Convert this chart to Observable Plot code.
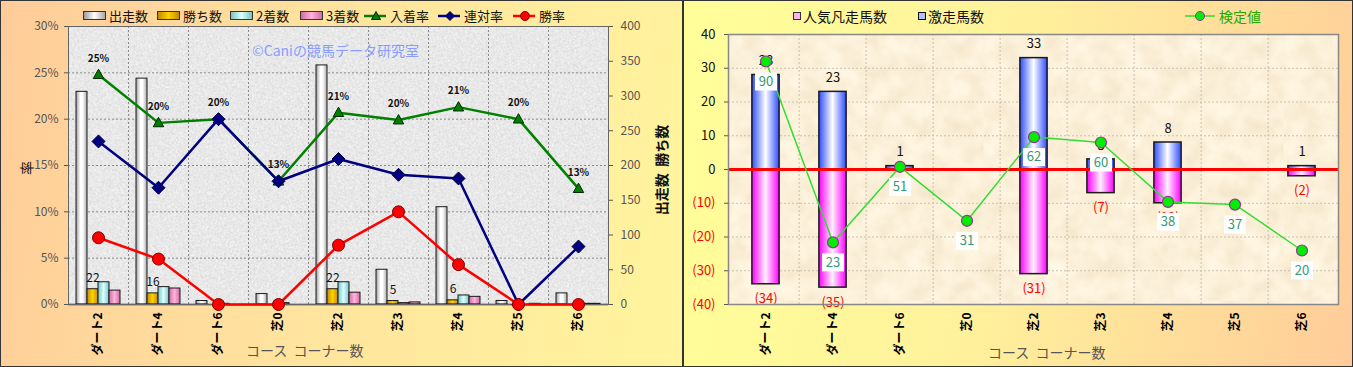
<!DOCTYPE html>
<html><head><meta charset="utf-8">
<script src="https://cdn.jsdelivr.net/npm/d3@7"></script>
<script src="https://cdn.jsdelivr.net/npm/@observablehq/plot@0.6"></script>
<style>
body{margin:0;width:1353px;height:367px;overflow:hidden;font-family:"Noto Sans CJK JP","Noto Sans",sans-serif;background:#fff;}
.panel{position:absolute;top:0;height:367px;overflow:hidden;}
#left{left:0;width:683px;background:linear-gradient(100deg,#FFCC99 0%,#FFE39E 45%,#FFF59D 100%);box-shadow:inset 0 0 0 1px #333;}
#right{left:683px;width:670px;background:linear-gradient(100deg,#FFFF99 0%,#FFF29C 45%,#FFCC99 100%);box-shadow:inset 0 0 0 1px #333;}
.layer{position:absolute;left:0;top:0;}
.leg{position:absolute;font-size:13px;white-space:nowrap;display:flex;align-items:center;color:#111;line-height:1;}
.bicon{display:inline-block;width:21px;height:7px;border:1px solid #333;margin-right:3px;}
.licon{display:inline-block;width:22px;height:12px;margin-right:4px;position:relative;}
.sq{display:inline-block;width:6px;height:6px;border:1px solid #222;margin-right:2px;}
.title{position:absolute;font-size:14px;color:#555;white-space:nowrap;}
.vlab{position:absolute;font-size:14px;color:#111;white-space:nowrap;transform:translate(-50%,-50%) rotate(-90deg);font-weight:bold;}
</style>
</head><body>
<svg width="0" height="0" style="position:absolute">
<defs>
<linearGradient id="gRun" x1="0" x2="1" y1="0" y2="0"><stop offset="0" stop-color="#9c9c9c"/><stop offset="0.4" stop-color="#ffffff"/><stop offset="0.6" stop-color="#ffffff"/><stop offset="1" stop-color="#a8a8a8"/></linearGradient>
<linearGradient id="gWin" x1="0" x2="1" y1="0" y2="0"><stop offset="0" stop-color="#c48c00"/><stop offset="0.5" stop-color="#ffd000"/><stop offset="1" stop-color="#c48c00"/></linearGradient>
<linearGradient id="g2nd" x1="0" x2="1" y1="0" y2="0"><stop offset="0" stop-color="#78c4c4"/><stop offset="0.5" stop-color="#dcffff"/><stop offset="1" stop-color="#78c4c4"/></linearGradient>
<linearGradient id="g3rd" x1="0" x2="1" y1="0" y2="0"><stop offset="0" stop-color="#d06aa4"/><stop offset="0.5" stop-color="#ffb4dc"/><stop offset="1" stop-color="#d06aa4"/></linearGradient>
<linearGradient id="gHot" x1="0" x2="1" y1="0" y2="0"><stop offset="0" stop-color="#2f4dff"/><stop offset="0.5" stop-color="#ffffff"/><stop offset="1" stop-color="#2f4dff"/></linearGradient>
<linearGradient id="gFlop" x1="0" x2="1" y1="0" y2="0"><stop offset="0" stop-color="#ff00ff"/><stop offset="0.5" stop-color="#fff0ff"/><stop offset="1" stop-color="#ff00ff"/></linearGradient>
<filter id="fGray" x="0" y="0" width="100%" height="100%" color-interpolation-filters="sRGB">
 <feTurbulence type="fractalNoise" baseFrequency="0.75" numOctaves="3" seed="4"/>
 <feColorMatrix type="matrix" values="0.3 0 0 0 0.76  0.3 0 0 0 0.76  0.3 0 0 0 0.76  0 0 0 0 1"/>
</filter>
<pattern id="texGray" patternUnits="userSpaceOnUse" width="300" height="300"><rect width="300" height="300" filter="url(#fGray)"/></pattern>
<filter id="fCream" x="0" y="0" width="100%" height="100%" color-interpolation-filters="sRGB">
 <feTurbulence type="fractalNoise" baseFrequency="0.05" numOctaves="3" seed="7"/>
 <feColorMatrix type="matrix" values="0.08 0 0 0 0.945  0.1 0 0 0 0.89  0.14 0 0 0 0.78  0 0 0 0 1"/>
</filter>
<pattern id="texCream" patternUnits="userSpaceOnUse" width="300" height="300"><rect width="300" height="300" filter="url(#fCream)"/></pattern>
</defs>
</svg>

<div id="left" class="panel">
  <div class="leg" style="left:83px;top:9px"><span class="bicon" style="background:linear-gradient(to right,#9c9c9c,#fff,#a8a8a8)"></span>出走数</div>
  <div class="leg" style="left:157px;top:9px"><span class="bicon" style="background:linear-gradient(to right,#c48c00,#ffd000,#c48c00)"></span>勝ち数</div>
  <div class="leg" style="left:230px;top:9px"><span class="bicon" style="background:linear-gradient(to right,#78c4c4,#dcffff,#78c4c4)"></span>2着数</div>
  <div class="leg" style="left:300px;top:9px"><span class="bicon" style="background:linear-gradient(to right,#d06aa4,#ffb4dc,#d06aa4)"></span>3着数</div>
  <div class="leg" style="left:364px;top:9px"><svg class="licon" width="24" height="12"><line x1="0" y1="6" x2="24" y2="6" stroke="#008000" stroke-width="2.5"/><path d="M12,1.5 L16.5,9.5 L7.5,9.5Z" fill="#008000" stroke="#002200"/></svg>入着率</div>
  <div class="leg" style="left:438px;top:9px"><svg class="licon" width="24" height="12"><line x1="0" y1="6" x2="24" y2="6" stroke="#000080" stroke-width="2.5"/><path d="M12,1.5 L16.5,6 L12,10.5 L7.5,6Z" fill="#000080" stroke="#000040"/></svg>連対率</div>
  <div class="leg" style="left:513px;top:9px"><svg class="licon" width="24" height="12"><line x1="0" y1="6" x2="24" y2="6" stroke="#ff0000" stroke-width="2.5"/><circle cx="12" cy="6" r="4.5" fill="#ff0000" stroke="#800000"/></svg>勝率</div>
  <div id="L1"></div><div id="L2"></div><div id="L3"></div>
  <div class="vlab" style="left:26px;top:168px;font-weight:normal">率</div>
  <div class="vlab" style="left:661px;top:170px">出走数&nbsp;&nbsp;勝ち数</div>
  <div class="title" style="left:246px;top:340px">コース&nbsp;&nbsp;コーナー数</div>
</div>

<div id="right" class="panel">
  <div class="leg" style="left:110px;top:9px;font-size:14px"><span class="sq" style="background:#ffb0f0;border-color:#333"></span>人気凡走馬数</div>
  <div class="leg" style="left:235px;top:9px;font-size:14px"><span class="sq" style="background:#b0c0ff;border-color:#111"></span>激走馬数</div>
  <div class="leg" style="left:502px;top:9px;font-size:14px;color:#22aa00"><svg class="licon" width="30" height="12" style="width:30px"><line x1="0" y1="6" x2="30" y2="6" stroke="#33dd33" stroke-width="1.5"/><circle cx="15" cy="6" r="4.5" fill="#00ee00" stroke="#993399"/></svg>検定値</div>
  <div id="R1"></div><div id="R2"></div>
  <div class="title" style="left:305px;top:342px">コース&nbsp;&nbsp;コーナー数</div>
</div>

<script>
// ---- data ----
const cats = ["ダート2","ダート4","ダート6","芝0","芝2","芝3","芝4","芝5","芝6"];
// left chart: counts
const runs    = [306, 325, 5, 15, 344, 50, 140, 5, 16];
const wins    = [22, 16, 0, 0, 22, 5, 6, 0, 0];
const seconds = [32, 25, 1, 2, 32, 2, 13, 0, 1];
const thirds  = [20, 23, 0, 0, 17, 3, 11, 1, 1];
// left chart: rates
const placeRate    = [0.248, 0.196, 0.200, 0.133, 0.207, 0.199, 0.213, 0.200, 0.125];
const quinellaRate = [0.176, 0.126, 0.200, 0.133, 0.157, 0.140, 0.136, 0.000, 0.0625];
const winRate      = [0.072, 0.049, 0.000, 0.000, 0.064, 0.100, 0.043, 0.000, 0.000];
const rateTicks  = [0, 0.05, 0.10, 0.15, 0.20, 0.25, 0.30];
const countTicks = [0, 50, 100, 150, 200, 250, 300, 350, 400];
// right chart
const hot     = [28, 23, 1, 0, 33, 3, 8, 0, 1];        // 激走馬数
const flop    = [-34, -35, 0, 0, -31, -7, -10, 0, -2];  // 人気凡走馬数
const testVal = [90, 23, 51, 31, 62, 60, 38, 37, 20];   // 検定値
const posTicks = [0, 10, 20, 30, 40];
const negTicks = [-10, -20, -30, -40];

const leftRows = cats.map((c, i) => ({cat: c, runs: runs[i], wins: wins[i], seconds: seconds[i], thirds: thirds[i],
  place: placeRate[i], quin: quinellaRate[i], win: winRate[i]}));
const rightRows = cats.map((c, i) => ({cat: c, hot: hot[i], flop: flop[i], test: testVal[i]}));

const font = '"Noto Sans CJK JP","Noto Sans",sans-serif';
const baseStyle = {background: "transparent", fontFamily: font, fontSize: "12px", color: "#555", overflow: "visible"};

function mount(id, svg) {
  svg.classList.add("layer");
  svg.style.position = "absolute"; svg.style.left = "0"; svg.style.top = "0";
  document.getElementById(id).appendChild(svg);
}

// ---- left chart ----
const LW = 683, LH = 367, LM = {marginLeft: 68, marginRight: 75, marginTop: 26, marginBottom: 63};
const lbw = (LW - LM.marginLeft - LM.marginRight) / cats.length;
const lx = {type: "band", domain: cats, padding: 0};

// layer 1: background, grid, left axis, watermark
mount("L1", Plot.plot({
  width: LW, height: LH, ...LM, style: baseStyle,
  x: {...lx, axis: null}, y: {domain: [0, 0.30]},
  marks: [
    Plot.frame({fill: "url(#texGray)"}),
    Plot.ruleX(cats.slice(1), {dx: -lbw / 2, stroke: "#8a8a8a", strokeDasharray: "2,2", strokeWidth: 1}),
    Plot.gridY({ticks: rateTicks.slice(1, -1), stroke: "#8a8a8a", strokeOpacity: 1, strokeDasharray: "2,2"}),
    Plot.axisY({ticks: rateTicks, tickFormat: d3.format(".0%"), tickSize: 4, tickPadding: 6, label: null, fill: "#555", fontSize: 12}),
    Plot.text(["©Caniの競馬データ研究室"], {frameAnchor: "top", dy: 20, dx: -3, fill: "#8a9cff", fontSize: 14})
  ]
}));

// layer 2: count bars, right axis, x axis
const series = [
  {key: "runs", fill: "url(#gRun)"},
  {key: "wins", fill: "url(#gWin)"},
  {key: "seconds", fill: "url(#g2nd)"},
  {key: "thirds", fill: "url(#g3rd)"}
];
const slot = 11, slot0 = 8;
mount("L2", Plot.plot({
  width: LW, height: LH, ...LM, style: baseStyle,
  x: lx, y: {domain: [0, 400]},
  marks: [
    ...series.map((s, i) => Plot.barY(leftRows, {x: "cat", y: s.key, fill: s.fill, stroke: "#1a1a1a", strokeWidth: 1,
      insetLeft: slot0 + slot * i, insetRight: lbw - (slot0 + slot * (i + 1))})),
    Plot.text(leftRows.filter(d => d.wins > 0), {x: "cat", y: "wins", text: d => String(d.wins),
      dx: slot0 + slot * 1.5 - lbw / 2, dy: -11, fill: "#111", fontSize: 12}),
    Plot.axisY({anchor: "right", ticks: countTicks, tickSize: 4, tickPadding: 8, label: null, fill: "#555", fontSize: 12}),
    Plot.axisX({tickRotate: -90, tickSize: 0, tickPadding: 8, label: null, fill: "#000", fontWeight: "bold", fontSize: 12}),
    Plot.ruleY([0], {stroke: "#222", strokeWidth: 1.5}),
    Plot.frame({stroke: "#666", strokeWidth: 1})
  ]
}));

// layer 3: rate lines
const triangle = {draw(c, s) { const r = 5.5; c.moveTo(0, -r); c.lineTo(r * 0.95, r * 0.7); c.lineTo(-r * 0.95, r * 0.7); c.closePath(); }};
const diamond = {draw(c, s) { const r = 6.5; c.moveTo(0, -r); c.lineTo(r, 0); c.lineTo(0, r); c.lineTo(-r, 0); c.closePath(); }};
mount("L3", Plot.plot({
  width: LW, height: LH, ...LM, style: baseStyle,
  x: {...lx, axis: null}, y: {domain: [0, 0.30], axis: null},
  marks: [
    Plot.line(leftRows, {x: "cat", y: "place", stroke: "#008000", strokeWidth: 2.5}),
    Plot.dot(leftRows, {x: "cat", y: "place", symbol: triangle, r: 5, fill: "#008000", stroke: "#002a00", strokeWidth: 1}),
    Plot.text(leftRows, {x: "cat", y: "place", text: d => d3.format(".0%")(d.place), dy: -16, fill: "#111", fontSize: 10, fontWeight: "bold"}),
    Plot.line(leftRows, {x: "cat", y: "quin", stroke: "#000080", strokeWidth: 2.5}),
    Plot.dot(leftRows, {x: "cat", y: "quin", symbol: diamond, r: 6, fill: "#000080", stroke: "#00003a", strokeWidth: 1}),
    Plot.line(leftRows, {x: "cat", y: "win", stroke: "#ff0000", strokeWidth: 2.5}),
    Plot.dot(leftRows, {x: "cat", y: "win", r: 6, fill: "#ff0000", stroke: "#7a0000", strokeWidth: 1})
  ]
}));

// ---- right chart ----
const RW = 670, RH = 367, RM = {marginLeft: 45, marginRight: 15, marginTop: 34, marginBottom: 63};
const rbw = (RW - RM.marginLeft - RM.marginRight) / cats.length;
const rx = {type: "band", domain: cats, padding: 0};
const barInset = (rbw - 28) / 2;
mount("R1", Plot.plot({
  width: RW, height: RH, ...RM, style: baseStyle,
  x: rx, y: {domain: [-40, 40]},
  marks: [
    Plot.frame({fill: "url(#texCream)"}),
    Plot.ruleX(cats.slice(1), {dx: -rbw / 2, stroke: "#c8c0b0", strokeDasharray: "2,2"}),
    Plot.gridY({ticks: [-30, -20, -10, 10, 20, 30], stroke: "#c8c0b0", strokeOpacity: 1, strokeDasharray: "2,2"}),
    Plot.barY(rightRows, {x: "cat", y: "hot", fill: "url(#gHot)", stroke: "#1a1a1a", strokeWidth: 1.5, insetLeft: barInset, insetRight: barInset}),
    Plot.barY(rightRows, {x: "cat", y: "flop", fill: "url(#gFlop)", stroke: "#1a1a1a", strokeWidth: 1.5, insetLeft: barInset, insetRight: barInset}),
    Plot.text(rightRows.filter(d => d.hot > 0), {x: "cat", y: "hot", text: d => String(d.hot), dy: -14, fill: "#111", fontSize: 13}),
    Plot.text(rightRows.filter(d => d.flop < 0), {x: "cat", y: "flop", text: d => `(${-d.flop})`, dy: 15, fill: "#ff0000", fontSize: 13}),
    Plot.ruleY([0], {stroke: "#ff0000", strokeWidth: 3}),
    Plot.axisY({ticks: posTicks, tickSize: 4, tickPadding: 9, label: null, fill: "#111", fontSize: 13}),
    Plot.axisY({ticks: negTicks, tickFormat: d => `(${-d})`, tickSize: 4, tickPadding: 9, label: null, fill: "#ff0000", fontSize: 13}),
    Plot.axisX({tickRotate: -90, tickSize: 0, tickPadding: 8, label: null, fill: "#000", fontWeight: "bold", fontSize: 12}),
    Plot.frame({stroke: "#888", strokeWidth: 1.5})
  ]
}));

const box = {draw(c, s) { c.rect(-11, -9, 22, 18); }};
mount("R2", Plot.plot({
  width: RW, height: RH, ...RM, style: baseStyle,
  x: {...rx, axis: null}, y: {domain: [0, 100], axis: null},
  marks: [
    Plot.line(rightRows, {x: "cat", y: "test", stroke: "#33dd33", strokeWidth: 1.5}),
    Plot.dot(rightRows, {x: "cat", y: "test", r: 5.5, fill: "#00ee00", stroke: "#993399", strokeWidth: 1.2}),
    Plot.dot(rightRows, {x: "cat", y: "test", symbol: box, r: 5, fill: "#ffffff", stroke: "none", dy: 20}),
    Plot.text(rightRows, {x: "cat", y: "test", text: d => String(d.test), dy: 20, fill: "#339977", fontSize: 13})
  ]
}));
</script>
</body></html>
